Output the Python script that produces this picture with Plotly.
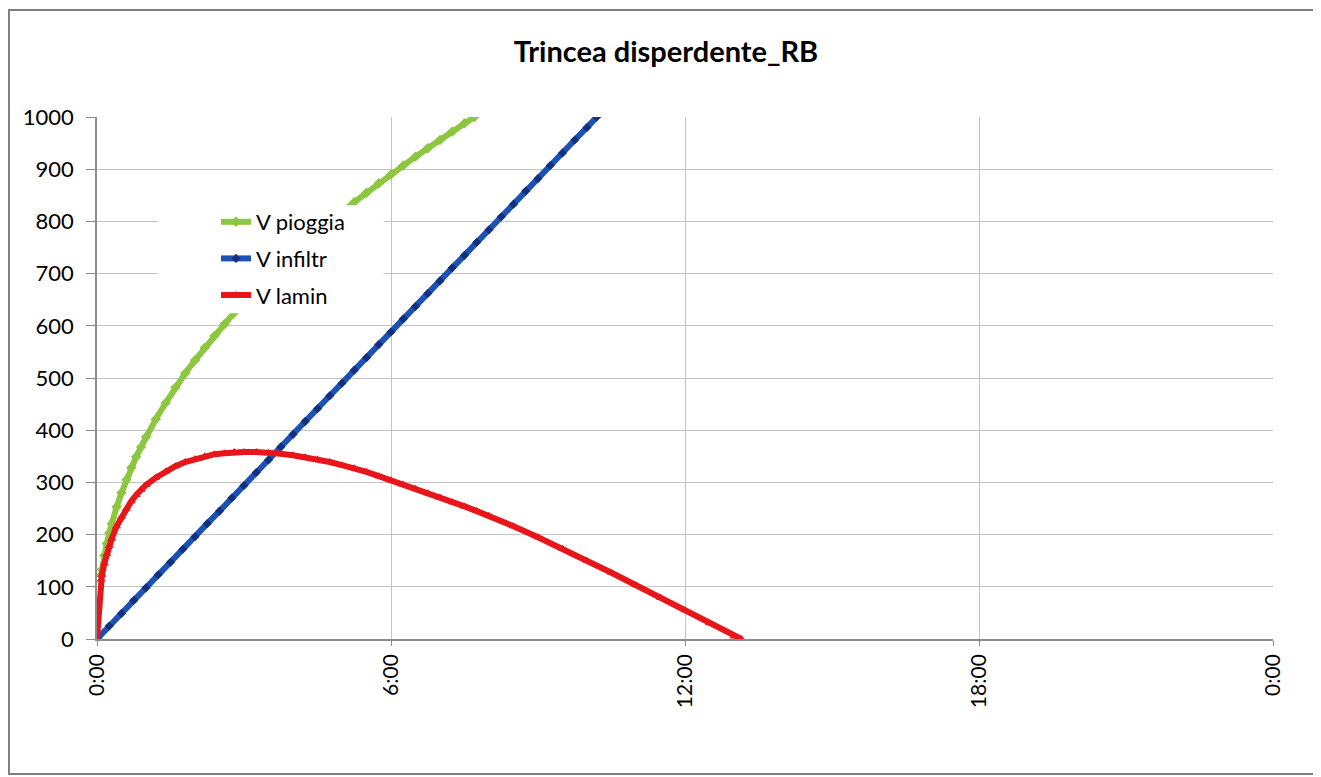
import plotly.graph_objects as go

# ---- data (hours, volume) ----
rain_t = [0.083, 0.1, 0.15, 0.2, 0.25, 0.3, 0.4, 0.5, 0.6, 0.7, 0.8, 0.9, 1.0,
          1.2, 1.4, 1.6, 1.8, 2.0, 2.2, 2.4, 2.6, 2.8, 3.0,
          3.25, 3.5, 3.75, 4.0, 4.25, 4.5, 4.75, 5.0, 5.25, 5.5, 5.75, 6.0,
          6.25, 6.5, 6.75, 7.0, 7.25, 7.5, 7.7]
rain_v = [122, 133, 160, 183, 203, 221, 253, 280, 305, 328, 349, 368, 387,
          421, 452, 482, 509, 534, 558, 581, 603, 625, 645,
          669, 693, 716, 737, 758, 779, 799, 818, 837, 855, 873, 890,
          907, 924, 940, 956, 972, 988, 1000]

infil_t = [0, 0.25, 0.5, 0.75, 1, 1.25, 1.5, 1.75, 2, 2.25, 2.5, 2.75, 3, 3.25,
           3.5, 3.75, 4, 4.25, 4.5, 4.75, 5, 5.25, 5.5, 5.75, 6, 6.25, 6.5, 6.75,
           7, 7.25, 7.5, 7.75, 8, 8.25, 8.5, 8.75, 9, 9.25, 9.5, 9.75, 10, 10.2]
infil_v = [0, 25, 49, 74, 98, 123, 147, 172, 196, 221, 245, 270, 294, 319,
           343, 368, 392, 417, 441, 466, 490, 515, 539, 564, 588, 613, 637, 662,
           686, 711, 735, 760, 784, 809, 833, 858, 882, 907, 931, 956, 980, 1000]

lamin_t = [0, 0.083, 0.1, 0.15, 0.2, 0.25, 0.3, 0.4, 0.5, 0.6, 0.7, 0.8, 0.9, 1.0,
           1.2, 1.4, 1.6, 1.8, 2.0, 2.2, 2.4, 2.6, 2.8, 3.0,
           3.25, 3.5, 3.75, 4.0, 4.25, 4.5, 4.75, 5.0, 5.25, 5.5, 5.75, 6.0,
           6.25, 6.5, 6.75, 7.0, 7.25, 7.5, 7.75,
           8.0, 8.5, 9.0, 9.5, 10.0, 10.5, 11.0, 11.5, 12.0, 12.5, 13.0, 13.15]
lamin_v = [0, 114, 123, 145, 163, 178, 192, 216, 234, 250, 264, 276, 286, 295,
           309, 321, 331, 339, 345, 350, 354, 356, 358, 358,
           358, 357, 355, 352, 348, 344, 339, 333, 327, 320, 312, 304,
           296, 288, 279, 271, 262, 254, 245,
           236, 216, 195, 173, 150, 127, 103, 79, 55, 30, 5, 0]

x_tickvals = [0, 6, 12, 18, 24]
x_ticktext = ["0:00", "6:00", "12:00", "18:00", "0:00"]

FONT = "Lato"

# figure sits inside the page's 8px body margin
W, H = 1313, 769
ML, MR, MT, MB = 89, 48, 109, 138
PW, PH = W - ML - MR, H - MT - MB


def px_x(fx):
    return (fx - ML) / PW


def px_y(fy):
    return 1 - (fy - MT) / PH


fig = go.Figure()
fig.add_trace(go.Scatter(
    x=rain_t, y=rain_v, name="V pioggia", mode="lines+markers",
    legendgroup="a",
    line=dict(color="#8dc63f", width=6),
    marker=dict(symbol="diamond", size=8, color="#8dc63f")))
fig.add_trace(go.Scatter(
    x=infil_t, y=infil_v, name="V infiltr", mode="lines+markers",
    legendgroup="b",
    line=dict(color="#1b52b4", width=6),
    marker=dict(symbol="diamond", size=7, color="#11307f")))
fig.add_trace(go.Scatter(
    x=lamin_t, y=lamin_v, name="V lamin", mode="lines+markers",
    legendgroup="c",
    line=dict(color="#e8161b", width=6),
    marker=dict(symbol="triangle-up", size=8, color="#e8161b")))

shapes = [
    # white box behind the legend (hides lines and grid there)
    dict(type="rect", xref="x", yref="y", x0=1.24, x1=5.85, y0=624, y1=831,
         fillcolor="white", line=dict(width=0), layer="above"),
    # outer chart frame
    dict(type="rect", xref="paper", yref="paper", x0=px_x(1), x1=px_x(1310),
         y0=px_y(766), y1=px_y(2), line=dict(color="#7f7f7f", width=2),
         fillcolor="rgba(0,0,0,0)", layer="below"),
]

fig.update_layout(
    width=W, height=H,
    margin=dict(l=ML, r=MR, t=MT, b=MB),
    paper_bgcolor="white", plot_bgcolor="white",
    font=dict(family=FONT, size=21, color="black"),
    title=dict(text="<b>Trincea disperdente_RB</b>", x=658 / W, xref="container",
               xanchor="center", y=1 - 44 / H, yanchor="middle",
               font=dict(family=FONT, size=29, color="black")),
    showlegend=True,
    legend=dict(x=px_x(208), xanchor="left",
                y=px_y(193), yanchor="top",
                bgcolor="rgba(0,0,0,0)", borderwidth=0,
                font=dict(family=FONT, size=22, color="black"),
                tracegroupgap=5, traceorder="grouped"),
    shapes=shapes,
    hovermode=False,
)
fig.update_xaxes(
    range=[0, 24], tickvals=x_tickvals, ticktext=x_ticktext, tickangle=-90,
    showgrid=True, gridcolor="#c4c4c4", gridwidth=1,
    showline=True, linecolor="#8c8c8c", linewidth=1.5,
    ticks="outside", ticklen=5, tickcolor="#8c8c8c",
    zeroline=False, tickfont=dict(family=FONT, size=21, color="black"),
)
fig.update_yaxes(
    range=[0, 1000], dtick=100, tick0=0,
    showgrid=True, gridcolor="#c4c4c4", gridwidth=1,
    showline=True, linecolor="#8c8c8c", linewidth=1.5,
    ticks="outside", ticklen=9, tickcolor="#8c8c8c", ticklabelstandoff=8,
    zeroline=False, tickfont=dict(family=FONT, size=22, color="black"),
)

fig.write_html("out.html")
